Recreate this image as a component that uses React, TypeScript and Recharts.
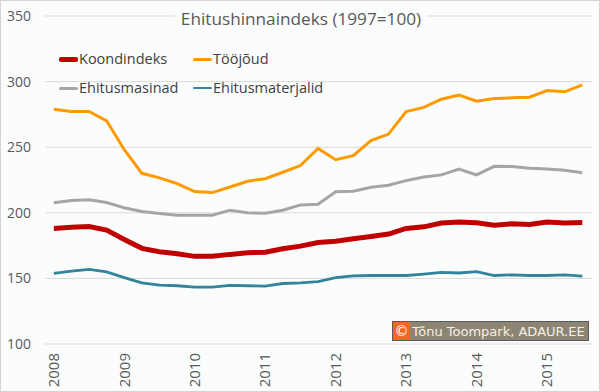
import { LineChart, Line, XAxis, YAxis, CartesianGrid } from "recharts";

// quarterly, 2008 Q1 .. 2015 Q3 (1997 = 100)
const quarters = [
  "2008", "2008 II", "2008 III", "2008 IV",
  "2009", "2009 II", "2009 III", "2009 IV",
  "2010", "2010 II", "2010 III", "2010 IV",
  "2011", "2011 II", "2011 III", "2011 IV",
  "2012", "2012 II", "2012 III", "2012 IV",
  "2013", "2013 II", "2013 III", "2013 IV",
  "2014", "2014 II", "2014 III", "2014 IV",
  "2015", "2015 II", "2015 III",
];

const koondindeks = [
  188.1, 188.9, 189.6, 186.8, 179.7, 172.9, 170.3, 168.8, 166.8, 166.8, 168.3,
  169.5, 170.0, 172.6, 174.6, 177.4, 178.4, 180.2, 182.0, 183.8, 188.1, 189.3,
  192.2, 192.9, 192.4, 190.6, 191.6, 191.1, 192.9, 192.2, 192.6,
];
const toojoud = [
  279.0, 277.2, 277.2, 270.1, 248.1, 230.1, 226.6, 222.3, 216.2, 215.4, 219.7,
  224.0, 226.0, 230.9, 236.0, 249.0, 240.5, 243.5, 255.0, 260.0, 277.2, 280.3,
  286.6, 289.7, 285.1, 287.1, 287.6, 288.1, 293.2, 292.2, 297.5,
];
const masinad = [
  207.6, 209.3, 209.9, 207.8, 203.8, 201.0, 199.5, 198.2, 198.2, 198.2, 202.0,
  200.0, 199.7, 202.0, 206.0, 206.5, 216.0, 216.5, 219.5, 221.0, 224.5, 227.3,
  228.9, 233.4, 228.9, 235.4, 235.2, 233.9, 233.4, 232.4, 230.6,
];
const materjalid = [
  153.8, 155.6, 156.9, 154.9, 150.6, 146.6, 144.9, 144.4, 143.4, 143.4, 144.7,
  144.4, 144.1, 146.1, 146.6, 147.6, 150.6, 152.0, 152.2, 152.2, 152.2, 153.3,
  154.6, 154.1, 155.1, 152.2, 152.7, 152.2, 152.2, 152.7, 151.7,
];

const yTicks = [100, 150, 200, 250, 300, 350];
const xTicks = [0, 4, 8, 12, 16, 20, 24, 28];

const series = [
  { key: "koondindeks", name: "Koondindeks", color: "#C00000", width: 5 },
  { key: "toojoud", name: "Tööjõud", color: "#FF9900", width: 3 },
  { key: "masinad", name: "Ehitusmasinad", color: "#A5A5A5", width: 3 },
  { key: "materjalid", name: "Ehitusmaterjalid", color: "#31849B", width: 2.8 },
];

const data = quarters.map((q, i) => ({
  t: i,
  q,
  koondindeks: koondindeks[i],
  toojoud: toojoud[i],
  masinad: masinad[i],
  materjalid: materjalid[i],
}));

const FONT = "'Open Sans', sans-serif";

function YTick({ y, payload }: any) {
  return (
    <text x={31} y={y} dy="0.35em" textAnchor="end" fill="#595959" fontSize={14} fontFamily={FONT}>
      {payload.value}
    </text>
  );
}

function XTick({ x, payload }: any) {
  const label = quarters[payload.value];
  return (
    <text
      x={x}
      y={353}
      dy="0.35em"
      textAnchor="end"
      transform={`rotate(-90, ${x}, 353)`}
      fill="#595959"
      fontSize={15}
      fontFamily={FONT}
    >
      {label}
    </text>
  );
}

function LegendItem({ s, left, top }: any) {
  return (
    <div style={{ position: "absolute", left, top, display: "flex", alignItems: "center" }}>
      <span
        style={{
          width: 19,
          height: s.width,
          background: s.color,
          borderRadius: 2,
          display: "inline-block",
        }}
      />
      <span style={{ fontSize: 14.5, color: "#404040", fontFamily: FONT, marginLeft: 1, lineHeight: "20px" }}>
        {s.name}
      </span>
    </div>
  );
}

export default function App() {
  return (
    <div
      style={{
        position: "absolute",
        left: 0,
        top: 0,
        width: 600,
        height: 392,
        background: "#fbfdfd",
        border: "1px solid #d4d4d4",
        boxSizing: "border-box",
        overflow: "hidden",
      }}
    >
      <div style={{ position: "absolute", left: -1, top: -1 }}>
        <LineChart width={600} height={392} data={data} margin={{ top: 16, right: 8, left: 0, bottom: 0 }}>
          <CartesianGrid vertical={false} stroke="#d9d9d9" />
          <XAxis
            dataKey="t"
            type="number"
            domain={[-0.5, 30.55]}
            ticks={xTicks}
            tick={<XTick />}
            axisLine={false}
            tickLine={false}
            height={48}
            interval={0}
          />
          <YAxis
            domain={[100, 350]}
            ticks={yTicks}
            tick={<YTick />}
            axisLine={false}
            tickLine={false}
            width={45}
          />
          {series.map((s) => (
            <Line
              key={s.key}
              dataKey={s.key}
              name={s.name}
              type="linear"
              stroke={s.color}
              strokeWidth={s.width}
              dot={false}
              isAnimationActive={false}
            />
          ))}
        </LineChart>
      </div>

      <div
        style={{
          position: "absolute",
          left: 174,
          top: 6,
          width: 252,
          textAlign: "center",
          background: "#fbfdfd",
          fontSize: 17.2,
          color: "#595959",
          fontFamily: FONT,
          lineHeight: "24px",
        }}
      >
        Ehitushinnaindeks (1997=100)
      </div>

      <LegendItem s={series[0]} left={58} top={48} />
      <LegendItem s={series[1]} left={192} top={48} />
      <LegendItem s={series[2]} left={58} top={77} />
      <LegendItem s={series[3]} left={192} top={77} />

      <div
        style={{
          position: "absolute",
          left: 391,
          top: 320,
          height: 18,
          display: "flex",
          alignItems: "center",
          background: "#8c8574",
          border: "1px solid #5a5a5a",
          fontFamily: "'DejaVu Sans', sans-serif",
          fontSize: 13,
          color: "#f4f1e6",
          paddingRight: 3,
        }}
      >
        <span
          style={{
            background: "#f26a21",
            color: "#fff",
            width: 17,
            height: 18,
            display: "inline-flex",
            alignItems: "center",
            justifyContent: "center",
            marginRight: 2,
            fontSize: 14,
          }}
        >
          ©
        </span>
        Tõnu Toompark, ADAUR.EE
      </div>
    </div>
  );
}
